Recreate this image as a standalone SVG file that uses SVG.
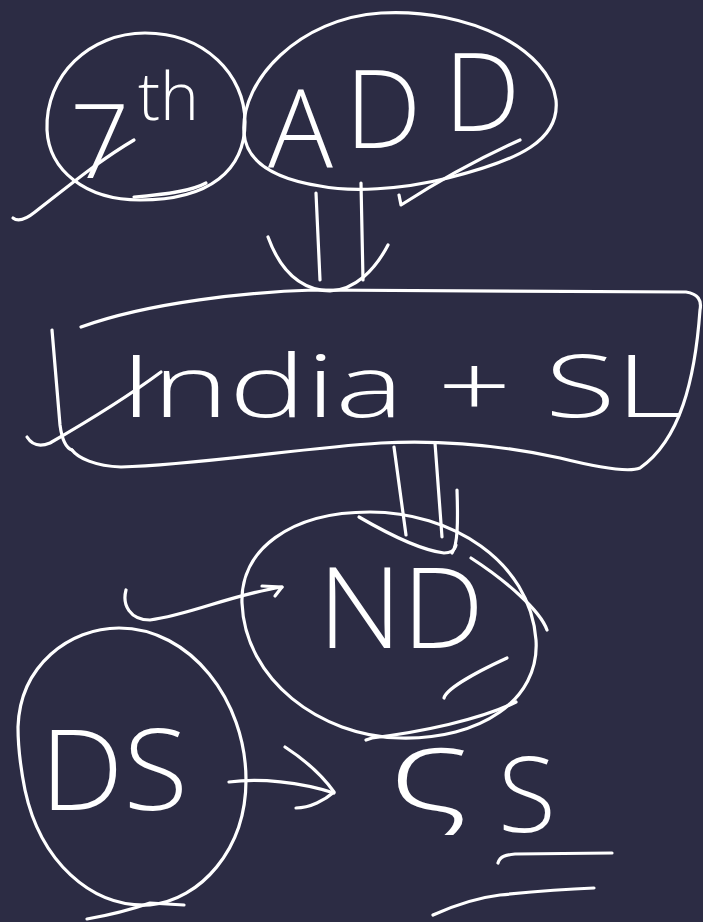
<svg xmlns="http://www.w3.org/2000/svg" width="703" height="922" viewBox="0 0 703 922">
<style>
.s{fill:none;stroke:#ffffff;stroke-width:3.2;stroke-linecap:round;stroke-linejoin:round}
.t{fill:#ffffff;font-family:"Open Sans","DejaVu Sans",sans-serif;font-weight:300}
</style>
<rect width="703" height="922" fill="#2c2c44"/>
<g id="node-7th">
<path class="s" d="M47,130 C45,75 90,33 145,33 C205,33 245,75 245,122 C245,170 210,200 140,200 C85,200 49,170 47,130 Z"/>
<text class="t" x="70" y="178" font-size="104">7</text>
<text class="t" x="138" y="120" font-size="66">th</text>
<path class="s" d="M13,218 C18,222 25,220 35,212 C70,185 100,160 134,140"/>
<path class="s" d="M134,197 C160,195 190,192 206,183"/>
</g>
<g id="node-ADD">
<path class="s" d="M244,133 C240,80 300,18 381,13 C470,8 550,50 556,100 C560,140 520,160 448,178 C400,190 350,192 320,186 C270,178 246,160 244,133 Z"/>
<text class="t" font-size="108"><tspan x="268" y="168">A</tspan><tspan x="345" y="148">D</tspan><tspan x="444" y="131">D</tspan></text>
<path class="s" d="M399,195 L401,205 C440,180 480,158 520,140"/>
</g>
<g id="node-india-sl">
<path class="s" d="M81,327 C150,302 250,292 314,290 L686,292 C698,294 702,300 700,310 C695,380 680,440 640,468 C630,472 600,468 560,458 C500,445 440,440 381,443 C300,448 200,465 121,467 C95,466 78,458 72,450"/>
<path class="s" d="M52,330 L60,425 C62,440 66,448 72,450"/>
<text class="t" x="120" y="417" font-size="86" textLength="562" lengthAdjust="spacingAndGlyphs">India + SL</text>
<path class="s" d="M27,437 C32,445 40,447 50,443 C90,420 130,395 161,372"/>
</g>
<g id="node-ND">
<path class="s" d="M242,603 C240,550 290,512 370,512 C450,512 530,560 536,640 C540,700 480,740 400,738 C320,736 245,680 242,603 Z"/>
<text class="t" x="318" y="648" font-size="112" textLength="166" lengthAdjust="spacingAndGlyphs">ND</text>
<path class="s" d="M471,558 C505,580 540,610 547,630"/>
<path class="s" d="M444,698 C446,690 470,675 507,658"/>
<path class="s" d="M366,740 L372,738 C420,732 480,720 516,702"/>
</g>
<g id="node-DS">
<path class="s" d="M18,727 C20,665 70,628 119,628 C190,628 246,700 246,780 C246,850 200,900 150,905 C90,908 40,860 25,790 C20,765 18,745 18,727 Z"/>
<path class="s" d="M87,919 C110,915 130,910 150,903 L184,905"/>
<text class="t" x="40" y="810" font-size="112" textLength="148" lengthAdjust="spacingAndGlyphs">DS</text>
</g>
<g id="node-SS">
<text class="t" x="388" y="812" font-size="118" textLength="82" lengthAdjust="spacingAndGlyphs">ς</text>
<text class="t" x="498" y="832" font-size="106">S</text>
<path class="s" d="M498,863 C500,856 506,855 515,854 L612,853"/>
<path class="s" d="M433,915 C455,905 475,898 500,895 C540,891 570,889 594,888"/>
</g>
<g id="connectors">
<path class="s" d="M316,193 L320,280"/>
<path class="s" d="M361,183 L363,280"/>
<path class="s" d="M268,237 C280,270 300,290 330,291 C355,290 375,270 388,245"/>
<path class="s" d="M394,447 L406,535"/>
<path class="s" d="M435,443 L442,537"/>
<path class="s" d="M457,490 C458,520 458,545 452,553"/>
<path class="s" d="M359,517 C390,535 420,550 444,553 C450,553 455,550 456,545"/>
<path class="s" d="M126,590 C122,605 130,620 150,620 C190,615 230,595 282,587"/>
<path class="s" d="M262,586 L282,587 L275,596"/>
<path class="s" d="M229,782 C260,778 300,782 334,793"/>
<path class="s" d="M285,747 C305,760 322,775 334,792 C325,800 310,808 296,808"/>
</g>
</svg>
